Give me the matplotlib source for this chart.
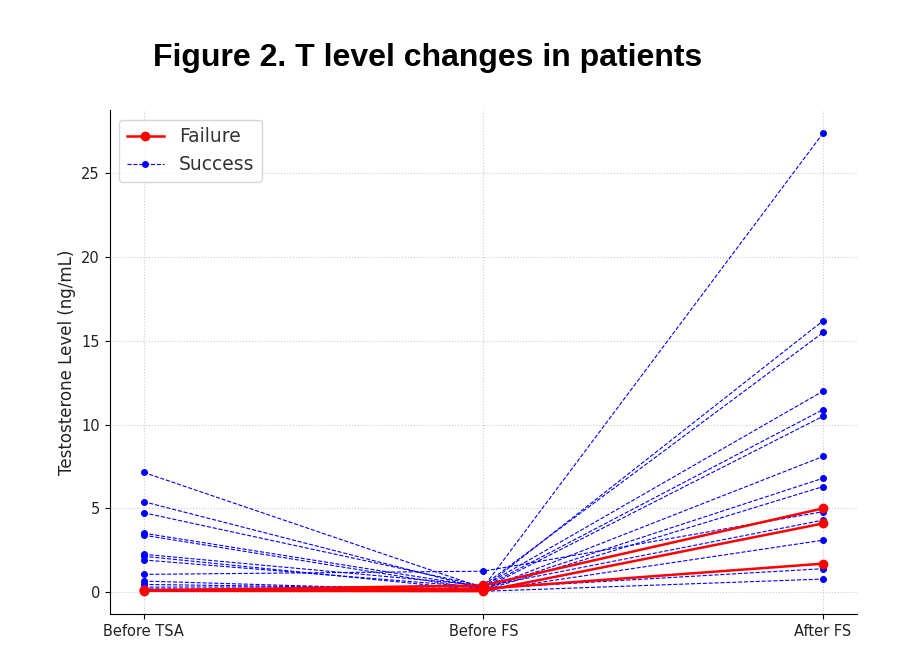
import matplotlib
matplotlib.use("Agg")
import matplotlib.pyplot as plt

stages = ["Before TSA", "Before FS", "After FS"]

# Success patients (blue dashed)
success_before_tsa = [7.15, 5.40, 4.74, 3.52, 3.40, 2.26, 2.14, 1.92, 1.06, 0.66, 0.46, 0.30, 0.20, 0.12]
success_before_fs  = [0.25, 0.20, 0.35, 0.30, 0.15, 0.40, 0.10, 0.28, 1.25, 0.05, 0.18, 0.32, 0.08, 0.22]
success_after_fs   = [16.2, 10.5, 12.0, 27.4, 8.1, 15.5, 6.3, 10.9, 4.8, 0.78, 6.8, 4.3, 3.1, 1.4]

# Failure patients (red solid)
failure_before_tsa = [0.10, 0.08, 0.12]
failure_before_fs  = [0.40, 0.06, 0.20]
failure_after_fs   = [5.0, 4.1, 1.7]

fig = plt.figure(figsize=(9.06, 6.64), dpi=100)
ax = fig.add_axes([0.121, 0.075, 0.825, 0.759])

x = list(range(len(stages)))
for i in range(len(failure_before_tsa)):
    ys = [failure_before_tsa[i], failure_before_fs[i], failure_after_fs[i]]
    ax.plot(x, ys, color="red", linestyle="-", linewidth=1.8, marker="o",
            markersize=6, label="Failure" if i == 0 else None, zorder=3)
for i in range(len(success_before_tsa)):
    ys = [success_before_tsa[i], success_before_fs[i], success_after_fs[i]]
    ax.plot(x, ys, color="blue", linestyle="--", linewidth=0.8, marker="o",
            markersize=4, label="Success" if i == 0 else None, zorder=2)

ax.set_xticks(x)
ax.set_xticklabels(stages, fontsize=10.5, color="#222222")
ax.tick_params(axis="y", labelsize=10.5, labelcolor="#222222")
ax.set_ylabel("Testosterone Level (ng/mL)", fontsize=12, color="#222222")
ax.grid(True, linestyle=":", color="#cccccc", linewidth=0.8)
ax.set_axisbelow(True)
for s in ["top", "right"]:
    ax.spines[s].set_visible(False)

leg = ax.legend(loc="upper left", fontsize=13.5)
for t in leg.get_texts():
    t.set_color("#333333")

fig.text(0.472, 0.913, "Figure 2. T level changes in patients",
         ha="center", va="center", fontsize=23, fontweight="bold",
         family=["Liberation Sans", "DejaVu Sans"])

fig.savefig("out.png", dpi=100)
